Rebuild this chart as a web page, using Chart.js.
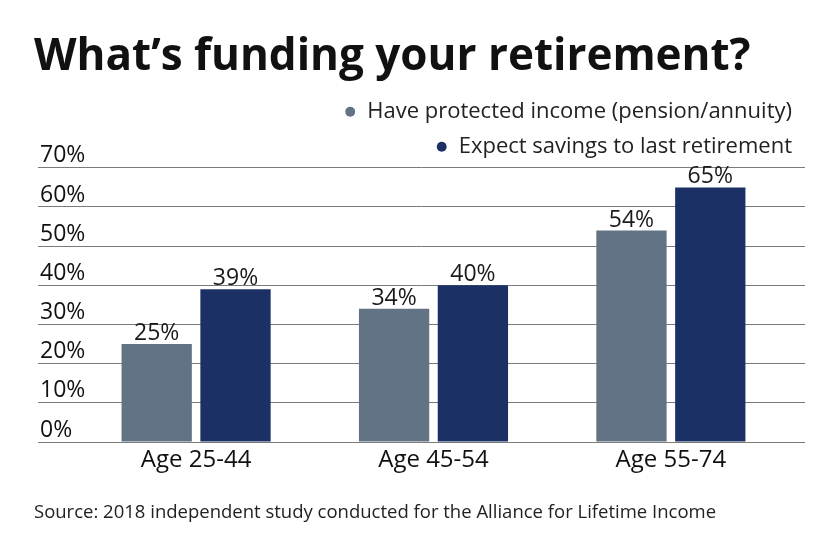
<!DOCTYPE html>
<html lang="en">
<head>
  <meta charset="UTF-8" />
  <title>What's funding your retirement?</title>
  <script src="https://cdn.jsdelivr.net/npm/chart.js"></script>
  <style>
    html, body { margin: 0; padding: 0; background: #fff; }
    .wrap { width: 840px; height: 547px; }
  </style>
</head>
<body>
  <div class="wrap">
    <canvas id="fundingChart"></canvas>
  </div>

  <script>
    const ageGroups = ['Age 25-44', 'Age 45-54', 'Age 55-74'];
    const protectedIncome = [25, 34, 54];
    const savingsLast = [39, 40, 65];
    const yTicks = [0, 10, 20, 30, 40, 50, 60, 70];

    const FONT = '"Open Sans", "Noto Sans", sans-serif';

    // value labels above each bar
    const barLabels = {
      id: 'barLabels',
      afterDatasetsDraw(chart) {
        const ctx = chart.ctx;
        ctx.save();
        ctx.font = '23px ' + FONT;
        ctx.fillStyle = '#1a1a1a';
        ctx.textAlign = 'center';
        ctx.textBaseline = 'bottom';
        chart.data.datasets.forEach((ds, i) => {
          chart.getDatasetMeta(i).data.forEach((bar, j) => {
            ctx.fillText(ds.data[j].y + '%', bar.x, bar.y + 1);
          });
        });
        ctx.restore();
      }
    };

    const ctx = document.getElementById('fundingChart').getContext('2d');

    new Chart(ctx, {
      type: 'bar',
      data: {
        datasets: [{
          label: 'Have protected income (pension/annuity)',
          data: protectedIncome.map((v, i) => ({ x: i, y: v })),
          backgroundColor: '#637386',
          categoryPercentage: 0.664,
          barPercentage: 0.892
        }, {
          label: 'Expect savings to last retirement',
          data: savingsLast.map((v, i) => ({ x: i, y: v })),
          backgroundColor: '#1b3165',
          categoryPercentage: 0.664,
          barPercentage: 0.892
        }]
      },
      options: {
        responsive: true,
        maintainAspectRatio: false,
        animation: false,
        layout: { padding: { left: 34, right: 35, top: 0, bottom: 0 } },
        plugins: {
          title: {
            display: true,
            text: 'What\u2019s funding your retirement?',
            align: 'start',
            color: '#111',
            font: { family: FONT, size: 44, weight: 'bold' },
            padding: { top: 31, bottom: 4 }
          },
          subtitle: {
            display: true,
            position: 'bottom',
            text: 'Source: 2018 independent study conducted for the Alliance for Lifetime Income',
            align: 'start',
            color: '#222',
            font: { family: FONT, size: 18.5 },
            padding: { top: 23, bottom: 23 }
          },
          legend: {
            display: true,
            position: 'top',
            align: 'end',
            labels: {
              usePointStyle: true,
              pointStyle: 'circle',
              boxWidth: 12,
              boxHeight: 7,
              padding: 13,
              color: '#222',
              font: { family: FONT, size: 22 }
            }
          },
          tooltip: { enabled: false }
        },
        scales: {
          x: {
            type: 'linear',
            min: -0.666,
            max: 2.565,
            offset: false,
            grid: { display: false, offset: false, drawTicks: false },
            border: { display: false },
            afterBuildTicks(scale) {
              scale.ticks = ageGroups.map((_, i) => ({ value: i }));
            },
            ticks: {
              color: '#111',
              font: { family: FONT, size: 24 },
              padding: 4,
              callback: (v) => ageGroups[v] ?? ''
            }
          },
          y: {
            min: 0,
            max: 70,
            afterBuildTicks(scale) {
              scale.ticks = yTicks.map(v => ({ value: v }));
            },
            grid: { color: '#7a7a7a', lineWidth: 1, drawTicks: false },
            border: { display: false },
            ticks: {
              mirror: true,
              padding: 2,
              labelOffset: -12,
              color: '#111',
              font: { family: FONT, size: 23 },
              callback: (v) => v + '%'
            }
          }
        }
      },
      plugins: [barLabels]
    });
  </script>
</body>
</html>
